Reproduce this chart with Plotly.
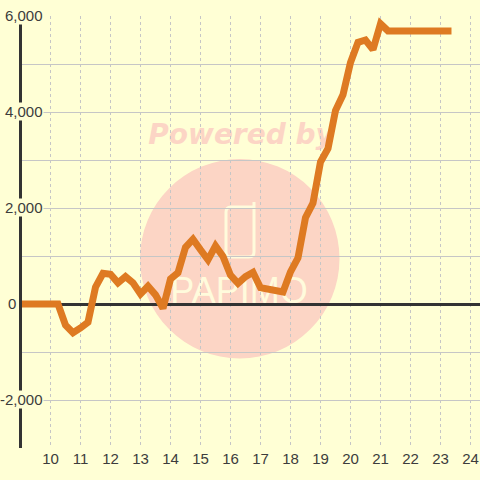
import plotly.graph_objects as go

hours = [9, 9.25, 9.5, 9.75, 10, 10.25, 10.5, 10.75, 11, 11.25, 11.5, 11.75,
         12, 12.25, 12.5, 12.75, 13, 13.25, 13.5, 13.75, 14, 14.25, 14.5, 14.75,
         15, 15.25, 15.5, 15.75, 16, 16.25, 16.5, 16.75, 17, 17.25, 17.5, 17.75,
         18, 18.25, 18.5, 18.75, 19, 19.25, 19.5, 19.75, 20, 20.25, 20.5, 20.75,
         21, 21.25, 21.5, 21.75, 22, 22.25, 22.5, 22.75, 23, 23.25]
values = [0, 0, 0, 0, 0, 0, -440, -600, -500, -380, 350, 640,
          620, 440, 570, 440, 210, 370, 190, -90, 520, 650, 1180, 1350,
          1130, 920, 1210, 990, 600, 430, 570, 660, 340, 300, 270, 250,
          670, 960, 1800, 2100, 2960, 3240, 4030, 4360, 5030, 5450, 5500, 5300,
          5840, 5690, 5690, 5690, 5690, 5690, 5690, 5690, 5690, 5690]
x_ticks = list(range(10, 25))
y_label_values = [6000, 4000, 2000, 0, -2000]
y_label_texts = ["6,000", "4,000", "2,000", "0", "-2,000"]
y_label_right_px = [44, 44, 44, 17, 44]

BG = "#FFFFD5"
INK = "#3C3C3C"
AXIS = "#333333"
GRID = "#C6C6C6"
LINE = "#DE7A22"
PINK = "#FCD5C5"
CREAM = "#FFFBDC"
L, T, W, H = 22, 16, 458, 432


def px(v):
    return (v - L) / W


def py(v):
    return (T + H - v) / H


shapes = [
    dict(type="circle", xref="paper", yref="paper", layer="below",
         x0=px(140), x1=px(339.5), y0=py(159), y1=py(358.5),
         fillcolor=PINK, line_width=0),
    dict(type="rect", xref="paper", yref="paper", layer="below",
         x0=px(121), x1=px(361), y0=py(115), y1=py(149),
         fillcolor="rgba(0,0,0,0)", line_width=0,
         label=dict(text="<b><i>Powered by</i></b>", textposition="middle center",
                    font=dict(family="DejaVu Sans", size=28, color=PINK))),
    dict(type="path", xref="paper", yref="paper", layer="below",
         path=(f"M {px(254)} {py(202)} L {px(254)} {py(252)} Q {px(254)} {py(257)} {px(249)} {py(257)} "
               f"L {px(231)} {py(257)} Q {px(226)} {py(257)} {px(226)} {py(252)} "
               f"L {px(226)} {py(212)} Q {px(226)} {py(207)} {px(231)} {py(207)} L {px(254)} {py(207)}"),
         line=dict(color=CREAM, width=3), fillcolor="rgba(0,0,0,0)"),
    dict(type="rect", xref="paper", yref="paper", layer="below",
         x0=px(159), x1=px(319), y0=py(268), y1=py(306),
         fillcolor="rgba(0,0,0,0)", line_width=0,
         label=dict(text="PAPIMO", textposition="middle center",
                    font=dict(family="Liberation Sans", size=36, color=CREAM))),
]

annotations = [
    dict(xref="paper", yref="y", x=px(r), y=v, text=t, showarrow=False,
         xanchor="right", yanchor="middle", bgcolor=BG, borderpad=0, yshift=1,
         font=dict(family="Liberation Sans", size=15, color=INK))
    for v, t, r in zip(y_label_values, y_label_texts, y_label_right_px)
]

fig = go.Figure(go.Scatter(x=hours, y=values, mode="lines", cliponaxis=False,
                           line=dict(color=LINE, width=7), hoverinfo="skip"))
fig.update_layout(
    width=480, height=480, autosize=False,
    margin=dict(l=L, r=0, t=T, b=32, pad=0),
    paper_bgcolor=BG, plot_bgcolor="rgba(0,0,0,0)",
    showlegend=False, shapes=shapes, annotations=annotations,
    xaxis=dict(range=[9 + 1.5 / 30, 24.317], tickvals=x_ticks, ticks="",
               showgrid=True, gridcolor=GRID, griddash="3px,3px", gridwidth=1,
               zeroline=False, showline=False,
               tickfont=dict(family="Liberation Sans", size=15, color=INK)),
    yaxis=dict(range=[-3000, 6000], dtick=1000, showticklabels=False, ticks="",
               showgrid=True, gridcolor=GRID, gridwidth=1,
               zeroline=True, zerolinecolor=AXIS, zerolinewidth=3,
               showline=True, linecolor=AXIS, linewidth=3),
)
fig.write_html("out.html", config=dict(displayModeBar=False),
               post_script="document.body.style.margin='0';document.body.style.overflow='hidden';document.documentElement.style.background='#FFFFD5';document.querySelectorAll('.js-line').forEach(function(p){p.style.strokeLinecap='square';});")
